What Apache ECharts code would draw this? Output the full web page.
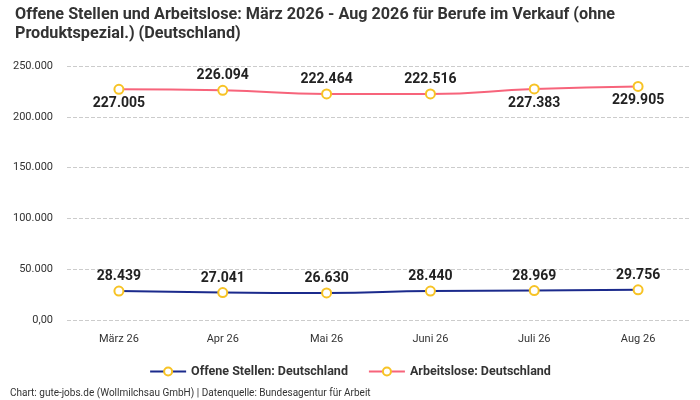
<!DOCTYPE html>
<html><head><meta charset="utf-8">
<script src="https://cdn.jsdelivr.net/npm/echarts@6/dist/echarts.min.js"></script>
<style>html,body{margin:0;padding:0;background:#fff}#c{width:700px;height:400px}</style>
</head><body><div id="c"></div>
<script>
const categories = ['März 26','Apr 26','Mai 26','Juni 26','Juli 26','Aug 26'];
const offeneStellen = [28439, 27041, 26630, 28440, 28969, 29756];
const arbeitslose = [227005, 226094, 222464, 222516, 227383, 229905];
const arbeitsloseLabelPos = ['bottom','top','top','top','bottom','bottom'];
const yTicks = [0, 50000, 100000, 150000, 200000, 250000];

function fmt(v){
  if (v === 0) return '0,00';
  return String(v).replace(/\B(?=(\d{3})+(?!\d))/g, '.');
}
const font = "'Liberation Sans Narrow', 'Roboto', sans-serif";
const chart = echarts.init(document.getElementById('c'), null, {renderer:'canvas'});
const labelStyle = {show:true, fontSize:14, fontWeight:'bold', color:'#222', fontFamily:'Roboto, sans-serif', formatter: p => fmt(p.value), distance:2};
chart.setOption({
  animation:false,
  title:{text:'Offene Stellen und Arbeitslose: März 2026 - Aug 2026 für Berufe im Verkauf (ohne\nProduktspezial.) (Deutschland)', left:10, top:0,
    textStyle:{fontSize:16.2, fontWeight:'bold', color:'#333', fontFamily:font, lineHeight:19}},
  grid:{left:67, right:10, top:66, bottom:80, containLabel:false},
  legend:{bottom:17, left:'center', itemWidth:36, itemHeight:10, itemGap:20,
    textStyle:{fontSize:12.5, fontWeight:'bold', color:'#333', fontFamily:font},
    data:['Offene Stellen: Deutschland','Arbeitslose: Deutschland']},
  graphic:[{type:'text', left:10, bottom:2, style:{text:'Chart: gute-jobs.de (Wollmilchsau GmbH) | Datenquelle: Bundesagentur für Arbeit', fontSize:10, fill:'#333', fontFamily:'Roboto, sans-serif'}}],
  xAxis:{type:'category', data:categories, boundaryGap:true,
    axisLine:{show:false}, axisTick:{show:false},
    axisLabel:{fontSize:11, color:'#333', margin:14, fontFamily:'Roboto, sans-serif'}},
  yAxis:{type:'value', min:0, max:250000, interval:50000,
    axisLabel:{fontSize:11, color:'#333', formatter:fmt, margin:14, fontFamily:'Roboto, sans-serif'},
    splitLine:{lineStyle:{type:'dashed', color:'#ccc'}}},
  series:[
    {name:'Offene Stellen: Deutschland', type:'line', smooth:true, data:offeneStellen,
      symbol:'circle', symbolSize:9, lineStyle:{color:'#1b2a8c', width:2},
      itemStyle:{color:'#fff', borderColor:'#f7c325', borderWidth:2},
      label:Object.assign({}, labelStyle, {position:'top'})},
    {name:'Arbeitslose: Deutschland', type:'line', smooth:true,
      data:arbeitslose.map((v,i)=>({value:v, label:{position:arbeitsloseLabelPos[i]}})),
      symbol:'circle', symbolSize:9, lineStyle:{color:'#f7647b', width:2},
      itemStyle:{color:'#fff', borderColor:'#f7c325', borderWidth:2},
      label:labelStyle}
  ]
});
</script></body></html>
